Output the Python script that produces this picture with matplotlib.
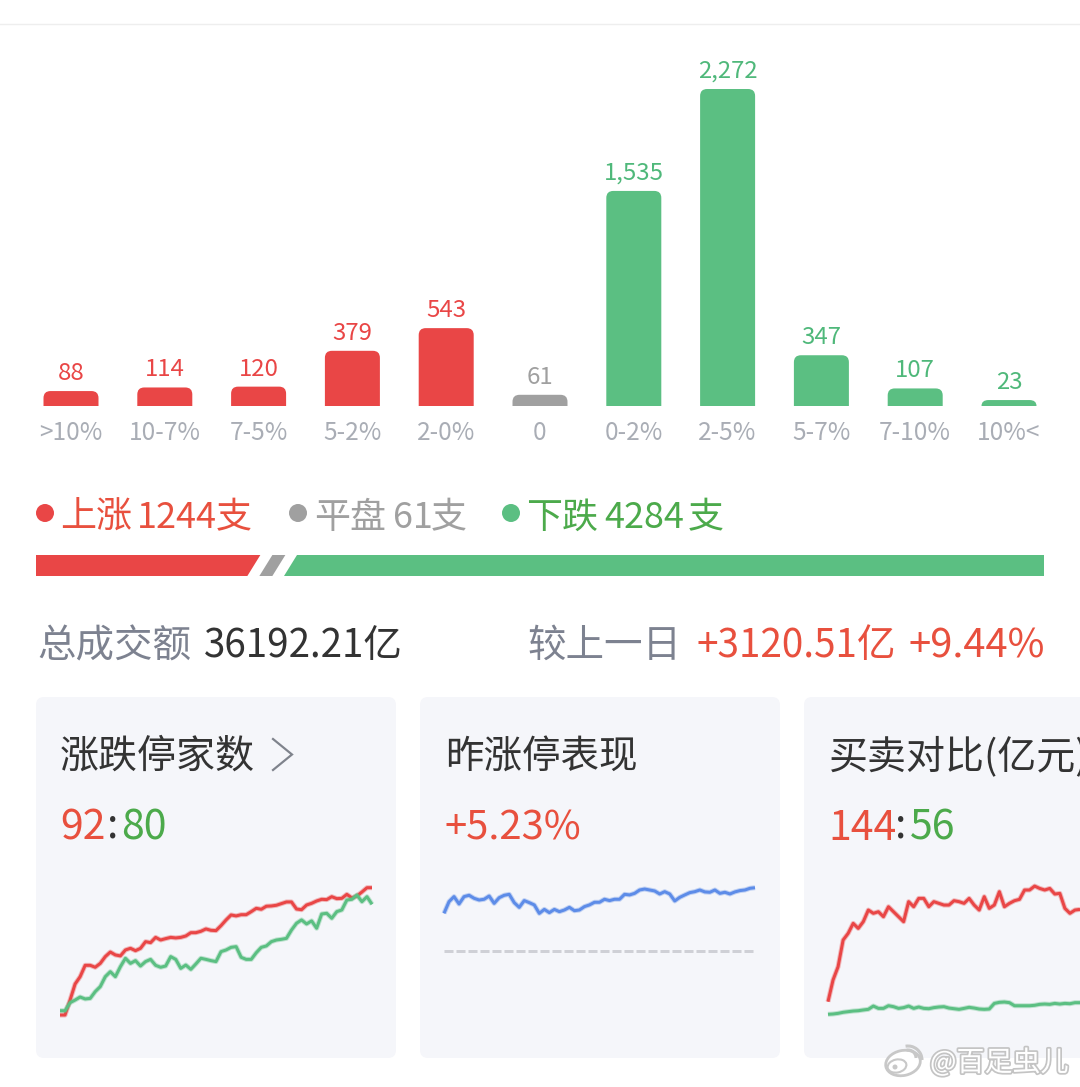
import matplotlib
matplotlib.use("Agg")
import matplotlib.pyplot as plt
import matplotlib.patheffects as pe
from matplotlib.patches import Arc, Circle, Ellipse, FancyBboxPatch, PathPatch, Polygon
from matplotlib.path import Path

plt.rcParams['font.family'] = ['Noto Sans CJK SC', 'DejaVu Sans']

# 涨跌分布
bins = ['>10%', '10-7%', '7-5%', '5-2%', '2-0%', '0', '0-2%', '2-5%', '5-7%', '7-10%', '10%<']
counts = [88, 114, 120, 379, 543, 61, 1535, 2272, 347, 107, 23]
up_count = 1244
flat_count = 61
down_count = 4284

# 涨跌停家数
limit_up = [0, 0, 10.8, 22.4, 27.7, 35.9, 35.9, 34.5, 37.3, 42.2, 45.5, 43.4, 42.7, 47, 48.2, 46.5,
            48.2, 53, 52.3, 56.1, 54.2, 55.2, 56.1, 55.7, 56.1, 57.1, 59.5, 59.5, 60.5, 62.2, 61.2, 61,
            64.6, 68.7, 72.3, 71.6, 72.5, 72.5, 74.7, 77.1, 76.4, 78.6, 78.8, 79.3, 80.5, 81.7, 81.7, 76.6,
            76.1, 79.5, 80.7, 82.4, 83.6, 83.4, 85.5, 84.1, 84.3, 87.2, 84.6, 86, 88.9, 92, 92]
limit_down = [3.1, 3.1, 8.9, 10.8, 13, 11.6, 12, 16.9, 20.5, 27.7, 31.3, 27.7, 34.9, 41, 37.3, 39.3,
              35.4, 38.6, 40.2, 35.9, 34.5, 35.4, 42.2, 40.2, 33.7, 36.1, 33, 36.9, 41, 40.2, 39.3, 38.6,
              45.8, 47, 48.9, 49.4, 41.7, 40.2, 40.2, 45, 48.9, 49.9, 53, 54.2, 54.7, 55.4, 61.4, 66.3,
              68.7, 65.8, 68, 62.7, 73, 73.5, 69.9, 74.7, 75.9, 83.1, 83.6, 86.7, 81.9, 85.5, 80]

# 昨涨停表现
yesterday_pct = [3.10, 4.07, 4.49, 3.88, 4.49, 4.60, 4.35, 4.21, 4.27, 4.54, 3.93, 4.40, 4.60, 4.68, 3.99, 3.60,
                 4.16, 3.99, 3.80, 3.10, 3.43, 3.16, 3.43, 3.24, 3.38, 3.60, 3.32, 3.38, 3.66, 3.80, 4.02, 4.02,
                 4.27, 4.16, 4.27, 4.27, 4.68, 4.63, 4.76, 5.04, 5.12, 5.04, 4.96, 4.71, 4.90, 4.71, 4.13, 4.43,
                 4.63, 4.82, 4.90, 5.04, 4.88, 4.85, 5.04, 4.76, 4.85, 4.71, 4.88, 4.99, 5.04, 5.18, 5.23]

# 买卖对比(亿元)
buy_amount = [56.9, 77.4, 89.9, 115.1, 121.4, 130.8, 126.1, 132.4, 143.4, 140.3, 141.8, 137.1, 146.5, 141.8, 137.1,
              132.4, 151.3, 146.5, 154.4, 154.4, 146.5, 151.3, 149.7, 148.1, 148.1, 152.2, 151.3, 149.7, 154.4,
              148.1, 143.4, 156, 145, 148.1, 160.7, 146.5, 149.7, 152.2, 153.5, 162.3, 162.3, 166, 163.8, 162.3,
              163.8, 158.5, 159.1, 145, 140.3, 143.4, 144]
sell_amount = [45, 45.3, 45.9, 46.9, 47.5, 48.1, 48.4, 49.1, 49.7, 52.8, 50.6, 50.6, 53.1, 52.2, 50.6,
               51.3, 52.8, 50.6, 51.9, 50.6, 50.3, 51.3, 51.9, 52.2, 50.9, 50.3, 49.7, 50.6, 51.6,
               50.9, 50, 49.7, 50, 55.3, 56.3, 56.6, 56, 53.1, 53.1, 53.1, 53.1, 53.5, 54.4, 54.7,
               54.4, 55.3, 54.7, 55.3, 55, 56, 56]

RED = '#e94646'
GREEN = '#5bbf82'
GRAY = '#a0a0a0'
TEXT_RED = '#e8503e'
TEXT_GREEN = '#4caa4b'
TEXT_GRAY = '#7d8290'
DARK = '#333333'
W, H = 1080, 1087
PT = 0.72  # px -> pt at dpi 100

fig = plt.figure(figsize=(W / 100, H / 100), dpi=100, facecolor='white')
page = fig.add_axes([0, 0, 1, 1])
page.set_xlim(0, W)
page.set_ylim(H, 0)
page.axis('off')


def pixel_axes(x0, x1, y_bottom, y_top):
    ax = fig.add_axes([x0 / W, 1 - y_bottom / H, (x1 - x0) / W, (y_bottom - y_top) / H])
    ax.patch.set_alpha(0)
    return ax


def label(x, y, s, color, size, **kw):
    page.text(x, y, s, color=color, fontsize=size * PT, va='baseline', **kw)


def rounded_top(ax, xc, height, half_w, rx, ry, color):
    # bars start at the lower axis limit so that small counts stay visible
    base = ax.get_ylim()[0]
    ry = min(ry, height - base)
    l, r = xc - half_w, xc + half_w
    verts = [(l, base), (l, height - ry), (l, height), (l + rx, height),
             (r - rx, height), (r, height), (r, height - ry), (r, base), (l, base)]
    codes = [Path.MOVETO, Path.LINETO, Path.CURVE3, Path.CURVE3,
             Path.LINETO, Path.CURVE3, Path.CURVE3, Path.LINETO, Path.CLOSEPOLY]
    ax.add_patch(PathPatch(Path(verts, codes), facecolor=color, edgecolor='none'))


# top hairline
page.plot([0, W], [23.5, 23.5], color='#eeeeee', lw=1)

# distribution bars
step = 93.8
ax_bar = pixel_axes(0, W, 406, 89)
ax_bar.set_xlim(-71 / step, (W - 71) / step)
ax_bar.set_ylim(-20, max(counts))
y_unit = (max(counts) + 20) / 317
bar_colors = [RED] * 5 + [GRAY] + [GREEN] * 5
label_colors = [RED] * 5 + [GRAY] + ['#4fb87a'] * 5
for i, (v, c, lc) in enumerate(zip(counts, bar_colors, label_colors)):
    rounded_top(ax_bar, i, v, 27.5 / step, 7 / step, 7 * y_unit, c)
    ax_bar.annotate(f'{v:,}', (i, v), xytext=(0, 11 * PT), textcoords='offset points',
                    ha='center', va='baseline', color=lc, fontsize=24 * PT, annotation_clip=False)
ax_bar.set_xticks(range(len(bins)))
ax_bar.set_xticklabels(bins, color='#a9adb5', fontsize=24.5 * PT)
ax_bar.tick_params(axis='x', length=0, pad=13.5 * PT)
ax_bar.set_yticks([])
for s in ax_bar.spines.values():
    s.set_visible(False)

# up / flat / down legend
page.add_patch(Circle((45, 513), 9, color=RED, lw=0))
label(60, 528, '上涨', TEXT_RED, 36)
label(137, 528, f'{up_count}', TEXT_RED, 36)
label(216, 528, '支', TEXT_RED, 36)
page.add_patch(Circle((298, 513), 9, color=GRAY, lw=0))
label(314, 528, '平盘', GRAY, 36)
label(393, 528, f'{flat_count}', GRAY, 36)
label(431, 528, '支', GRAY, 36)
page.add_patch(Circle((511, 513), 9, color=GREEN, lw=0))
label(526, 528, '下跌', TEXT_GREEN, 36)
label(604, 528, f'{down_count}', TEXT_GREEN, 36)
label(688, 528, '支', TEXT_GREEN, 36)

# proportion bar, slanted between the segments
total = up_count + flat_count + down_count
left, right = 36, 1044
top, bottom = 555, 576
skew, gap, gray_w = 13, 12, 13
red_end = left + (right - left) * up_count / total
gray_start = red_end + gap
green_start = gray_start + gray_w + gap
page.add_patch(Polygon([(left, top), (red_end, top), (red_end - skew, bottom), (left, bottom)], color=RED, lw=0))
page.add_patch(Polygon([(gray_start, top), (gray_start + gray_w, top), (gray_start + gray_w - skew, bottom),
                        (gray_start - skew, bottom)], color=GRAY, lw=0))
page.add_patch(Polygon([(green_start, top), (right, top), (right, bottom), (green_start - skew, bottom)], color=GREEN, lw=0))

# turnover row
label(37, 657, '总成交额', TEXT_GRAY, 38.5)
label(204, 657, '36192.21亿', DARK, 38.5)
label(527, 657, '较上一日', TEXT_GRAY, 38.5)
label(696, 657, '+3120.51亿', TEXT_RED, 38.7)
label(908, 657, '+9.44%', TEXT_RED, 40)

# cards
for x0, x1 in [(36, 396), (420, 780), (804, 1160)]:
    page.add_patch(FancyBboxPatch((x0 + 8, 705), x1 - x0 - 16, 345, boxstyle='round,pad=8,rounding_size=8',
                                  facecolor='#f5f6fa', edgecolor='none'))
label(60, 768, '涨跌停家数', DARK, 39)
page.plot([273, 292, 273], [739, 754.5, 770], color='#7f838c', lw=2.2 * PT, solid_joinstyle='miter')
label(445, 768, '昨涨停表现', DARK, 38.5)
label(829, 768, '买卖对比(亿元)', DARK, 39)

label(60, 840, '92', TEXT_RED, 41)
label(107, 838, ':', DARK, 41)
label(121, 840, '80', TEXT_GREEN, 41)
label(445, 840, '+5.23%', TEXT_RED, 40)
label(828, 840, '144', TEXT_RED, 41)
label(895, 838, ':', DARK, 41)
label(910, 840, '56', TEXT_GREEN, 41)

# intraday sparklines, a pale stroke underneath keeps the edges soft
LW = 3.0 * PT
fuzz = [pe.Stroke(linewidth=5.0 * PT, alpha=0.35), pe.Normal()]
spark = dict(solid_joinstyle='round', solid_capstyle='butt', lw=LW, path_effects=fuzz)

ax1 = pixel_axes(60, 372, 1015, 887.7)
ax1.set_xlim(0, len(limit_up) - 1)
ax1.set_ylim(0, 92)
ax1.plot(limit_up, color=RED, clip_on=False, **spark)
ax1.plot(limit_down, color=GREEN, clip_on=False, **spark)
ax1.axis('off')

ax2 = pixel_axes(444, 755, 950.7, 887.7)
ax2.set_xlim(0, len(yesterday_pct) - 1)
ax2.set_ylim(0, 5.23)
ax2.axhline(0, xmax=0.995, color='#cfd0d6', lw=3.0 * PT, ls=(0, (3.0, 1.0)), clip_on=False)
ax2.plot(yesterday_pct, color='#5d8ce8', clip_on=False, **spark)
ax2.axis('off')

ax3 = pixel_axes(828, 1080, 1062, 909.4)
ax3.set_xlim(0, 50)
ax3.set_ylim(0, 144)
ax3.plot(buy_amount, color=RED, clip_on=False, **spark)
ax3.plot(sell_amount, color=GREEN, clip_on=False, **spark)
ax3.axis('off')

# weibo mark in the corner
edge = '#c8c8c8'
page.add_patch(Ellipse((903, 1063), 35, 25, angle=-12, facecolor='white', edgecolor=edge, lw=2, zorder=9))
page.add_patch(Ellipse((897, 1066), 19, 13, angle=-12, facecolor='white', edgecolor=edge, lw=1.5, zorder=9))
page.add_patch(Circle((895, 1067), 2.5, facecolor=edge, lw=0, zorder=9))
page.add_patch(Arc((908, 1058), 16, 16, theta1=-100, theta2=0, edgecolor=edge, lw=2.2, zorder=9))
page.add_patch(Arc((908, 1060), 28, 28, theta1=-100, theta2=0, edgecolor=edge, lw=2.2, zorder=9))
txt = page.text(930, 1071, '@百足虫儿', color='white', fontsize=28 * PT, va='baseline', zorder=10)
txt.set_path_effects([pe.withStroke(linewidth=2.5, foreground='#c4c4c4')])

fig.savefig('out.png', dpi=100)
